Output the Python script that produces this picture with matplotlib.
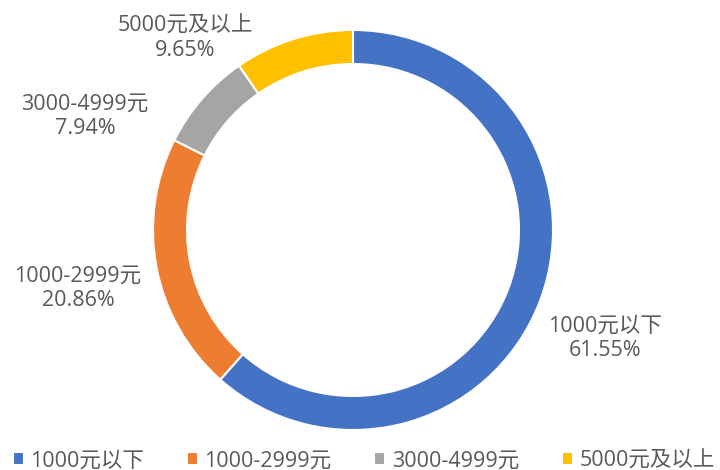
import matplotlib.pyplot as plt

plt.rcParams['font.family'] = ['Open Sans', 'Noto Sans CJK SC', 'DejaVu Sans']

categories = ['1000元以下', '1000-2999元', '3000-4999元', '5000元及以上']
shares = [61.55, 20.86, 7.94, 9.65]
colors = ['#4472C4', '#ED7D31', '#A5A5A5', '#FFC000']
# label positions in pixels (x, y from bottom)
label_pos = [(605, 132), (78, 182), (85, 354), (185, 432)]

fig = plt.figure(figsize=(7.2, 4.7), dpi=100)
ax = fig.add_axes([0, 0, 1, 1])

wedges, _ = ax.pie(shares, colors=colors, startangle=90, counterclock=False,
                   center=(353, 240), radius=200, frame=True,
                   wedgeprops=dict(width=34, edgecolor='white', linewidth=1.5))
ax.set_xlim(0, 720)
ax.set_ylim(0, 470)
ax.set_aspect('equal')
ax.axis('off')

for cat, v, (x, y) in zip(categories, shares, label_pos):
    ax.text(x, y, f'{cat}\n{v:.2f}%', ha='center', va='center',
            fontsize=15.5, color='#595959', linespacing=1.2)

ax.legend(wedges, categories, loc='lower left', bbox_to_anchor=(0.0, -0.03),
          ncol=4, frameon=False, fontsize=15.5, labelcolor='#595959',
          handlelength=0.5, handleheight=0.5, handletextpad=0.3, columnspacing=2.0,
          borderaxespad=0.2)

plt.savefig('out.png', dpi=100)
